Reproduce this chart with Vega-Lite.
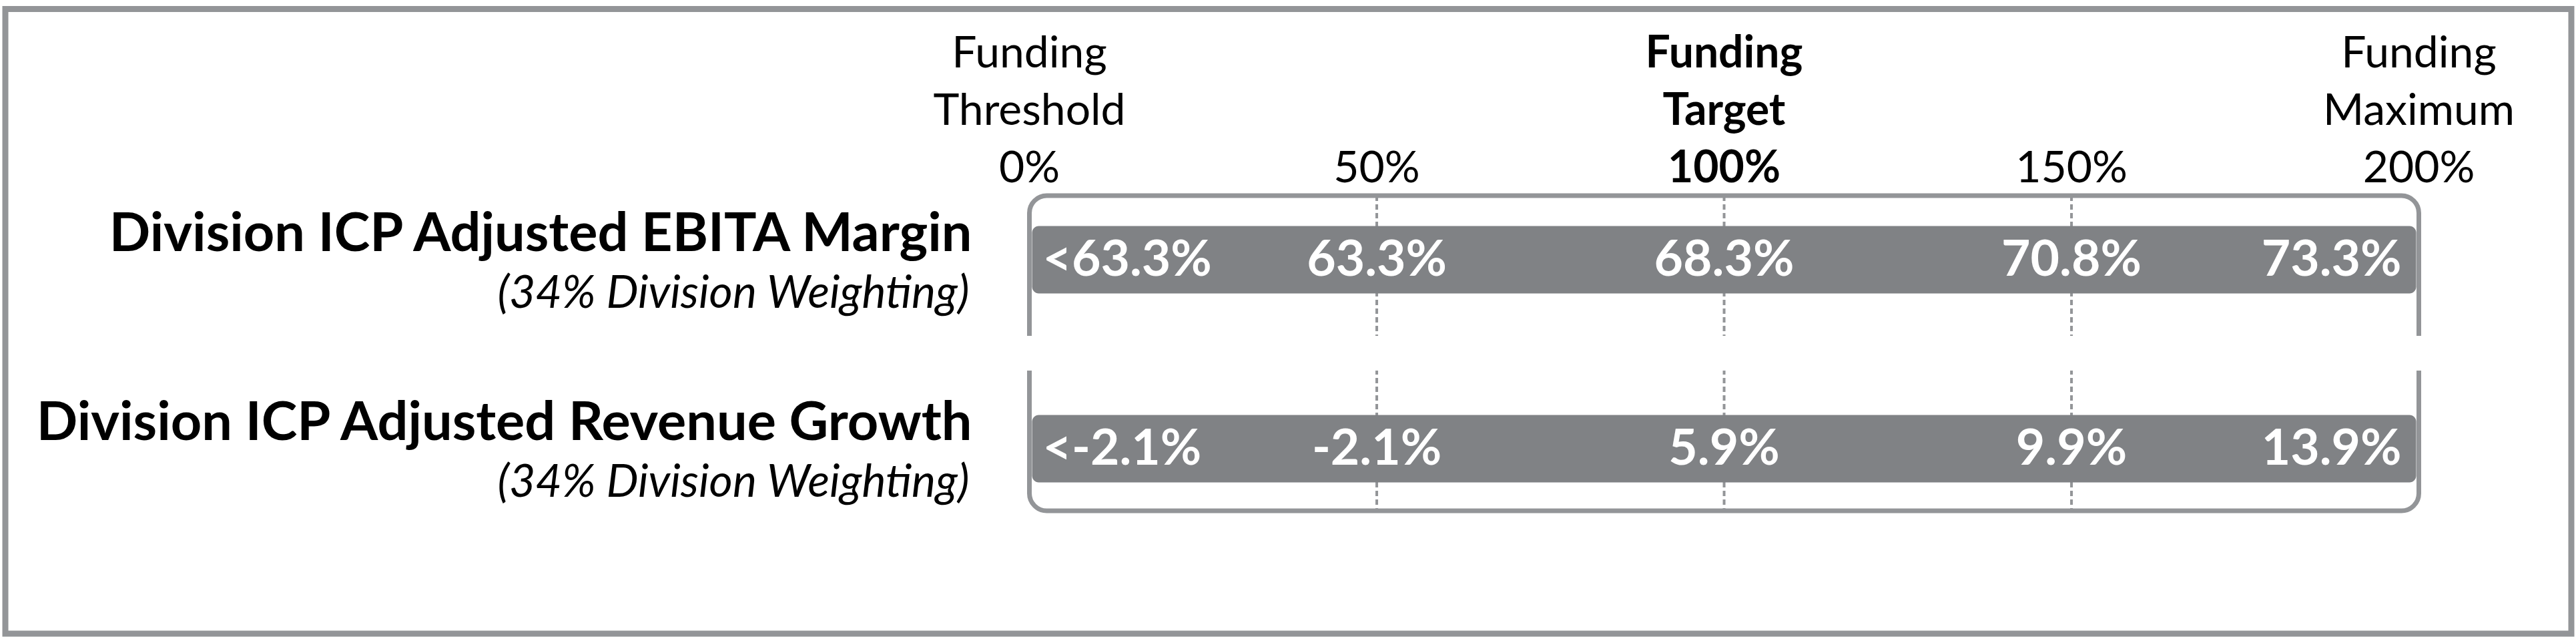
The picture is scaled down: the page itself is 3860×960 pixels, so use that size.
{
  "$schema": "https://vega.github.io/schema/vega-lite/v6.json",
  "width": 3845,
  "height": 935.5,
  "autosize": {"type": "none"},
  "padding": {"left": 8, "top": 13.5, "right": 7, "bottom": 11},
  "background": "white",
  "config": {
    "view": {"stroke": "#939598", "strokeWidth": 9},
    "font": "Lato"
  },
  "datasets": {
    "levels": [
      {"metric": "Division ICP Adjusted EBITA Margin", "pct": 0, "label": "<63.3%"},
      {"metric": "Division ICP Adjusted EBITA Margin", "pct": 50, "label": "63.3%"},
      {"metric": "Division ICP Adjusted EBITA Margin", "pct": 100, "label": "68.3%"},
      {"metric": "Division ICP Adjusted EBITA Margin", "pct": 150, "label": "70.8%"},
      {"metric": "Division ICP Adjusted EBITA Margin", "pct": 200, "label": "73.3%"},
      {"metric": "Division ICP Adjusted Revenue Growth", "pct": 0, "label": "<-2.1%"},
      {"metric": "Division ICP Adjusted Revenue Growth", "pct": 50, "label": "-2.1%"},
      {"metric": "Division ICP Adjusted Revenue Growth", "pct": 100, "label": "5.9%"},
      {"metric": "Division ICP Adjusted Revenue Growth", "pct": 150, "label": "9.9%"},
      {"metric": "Division ICP Adjusted Revenue Growth", "pct": 200, "label": "13.9%"}
    ],
    "metrics": [
      {"metric": "Division ICP Adjusted EBITA Margin", "weighting": "(34% Division Weighting)"},
      {"metric": "Division ICP Adjusted Revenue Growth", "weighting": "(34% Division Weighting)"}
    ],
    "scale": [
      {"pct": 0, "line1": "Funding", "line2": "Threshold", "tick": "0%"},
      {"pct": 50, "line1": "", "line2": "", "tick": "50%"},
      {"pct": 100, "line1": "Funding", "line2": "Target", "tick": "100%"},
      {"pct": 150, "line1": "", "line2": "", "tick": "150%"},
      {"pct": 200, "line1": "Funding", "line2": "Maximum", "tick": "200%"}
    ]
  },
  "resolve": {"scale": {"x": "shared", "y": "shared"}},
  "layer": [
    {
      "data": {"name": "levels"},
      "mark": {"type": "rect", "fill": null, "fillOpacity": 0, "stroke": "#939598", "strokeWidth": 7, "cornerRadius": 26, "yOffset": -96, "y2Offset": 93},
      "encoding": {
        "x": {"aggregate": "min", "field": "pct", "type": "quantitative", "axis": null,
              "scale": {"domain": [-147.41, 221.95], "nice": false, "zero": false}},
        "x2": {"aggregate": "max", "field": "pct"},
        "y": {"datum": "Division ICP Adjusted EBITA Margin", "type": "nominal", "axis": null,
              "scale": {"type": "point", "domain": ["Division ICP Adjusted EBITA Margin", "Division ICP Adjusted Revenue Growth"], "range": [375.5, 658.5], "padding": 0}},
        "y2": {"datum": "Division ICP Adjusted Revenue Growth"}
      }
    },
    {
      "data": {"name": "scale"},
      "transform": [{"filter": "datum.pct > 0 && datum.pct < 200"}],
      "mark": {"type": "rule", "stroke": "#939598", "strokeWidth": 4, "strokeDash": [8, 5], "yOffset": -96, "y2Offset": 93},
      "encoding": {
        "x": {"field": "pct", "type": "quantitative", "axis": null},
        "y": {"datum": "Division ICP Adjusted EBITA Margin", "type": "nominal", "axis": null},
        "y2": {"datum": "Division ICP Adjusted Revenue Growth"}
      }
    },
    {
      "data": {"name": "levels"},
      "mark": {"type": "rect", "fill": "white", "yOffset": 114, "y2Offset": -117, "xOffset": -12, "x2Offset": 12},
      "encoding": {
        "x": {"aggregate": "min", "field": "pct", "type": "quantitative", "axis": null},
        "x2": {"aggregate": "max", "field": "pct"},
        "y": {"datum": "Division ICP Adjusted EBITA Margin", "type": "nominal", "axis": null},
        "y2": {"datum": "Division ICP Adjusted Revenue Growth"}
      }
    },
    {
      "data": {"name": "levels"},
      "mark": {"type": "bar", "color": "#808285", "size": 101, "cornerRadius": 10, "xOffset": 4, "x2Offset": -4},
      "encoding": {
        "y": {"field": "metric", "type": "nominal", "axis": null},
        "x": {"aggregate": "min", "field": "pct", "type": "quantitative", "axis": null},
        "x2": {"aggregate": "max", "field": "pct"}
      }
    },
    {
      "data": {"name": "levels"},
      "mark": {"type": "text", "color": "white", "fontWeight": "bold", "fontSize": 75, "baseline": "alphabetic", "dy": 24,
               "align": {"expr": "datum.pct == 0 ? 'left' : datum.pct == 200 ? 'right' : 'center'"},
               "dx": {"expr": "datum.pct == 0 ? 20 : datum.pct == 200 ? -26 : 0"}},
      "encoding": {
        "y": {"field": "metric", "type": "nominal", "axis": null},
        "x": {"field": "pct", "type": "quantitative", "axis": null},
        "text": {"field": "label"}
      }
    },
    {
      "data": {"name": "metrics"},
      "mark": {"type": "text", "color": "black", "fontWeight": "bold", "fontSize": 81, "align": "right", "baseline": "alphabetic", "dx": -86, "dy": -13},
      "encoding": {
        "y": {"field": "metric", "type": "nominal", "axis": null},
        "x": {"datum": 0, "type": "quantitative", "axis": null},
        "text": {"field": "metric"}
      }
    },
    {
      "data": {"name": "metrics"},
      "mark": {"type": "text", "color": "black", "fontStyle": "italic", "fontSize": 68, "align": "right", "baseline": "alphabetic", "dx": -90, "dy": 72},
      "encoding": {
        "y": {"field": "metric", "type": "nominal", "axis": null},
        "x": {"datum": 0, "type": "quantitative", "axis": null},
        "text": {"field": "weighting"}
      }
    },
    {
      "data": {"name": "scale"},
      "mark": {"type": "text", "color": "black", "fontSize": 66, "align": "center", "baseline": "alphabetic", "dy": -288,
               "fontWeight": {"expr": "datum.pct == 100 ? 'bold' : 'normal'"}},
      "encoding": {
        "y": {"datum": "Division ICP Adjusted EBITA Margin", "type": "nominal", "axis": null},
        "x": {"field": "pct", "type": "quantitative", "axis": null},
        "text": {"field": "line1"}
      }
    },
    {
      "data": {"name": "scale"},
      "mark": {"type": "text", "color": "black", "fontSize": 66, "align": "center", "baseline": "alphabetic", "dy": -202,
               "fontWeight": {"expr": "datum.pct == 100 ? 'bold' : 'normal'"}},
      "encoding": {
        "y": {"datum": "Division ICP Adjusted EBITA Margin", "type": "nominal", "axis": null},
        "x": {"field": "pct", "type": "quantitative", "axis": null},
        "text": {"field": "line2"}
      }
    },
    {
      "data": {"name": "scale"},
      "mark": {"type": "text", "color": "black", "fontSize": 66, "align": "center", "baseline": "alphabetic", "dy": -116,
               "fontWeight": {"expr": "datum.pct == 100 ? 'bold' : 'normal'"}},
      "encoding": {
        "y": {"datum": "Division ICP Adjusted EBITA Margin", "type": "nominal", "axis": null},
        "x": {"field": "pct", "type": "quantitative", "axis": null},
        "text": {"field": "tick"}
      }
    }
  ]
}
